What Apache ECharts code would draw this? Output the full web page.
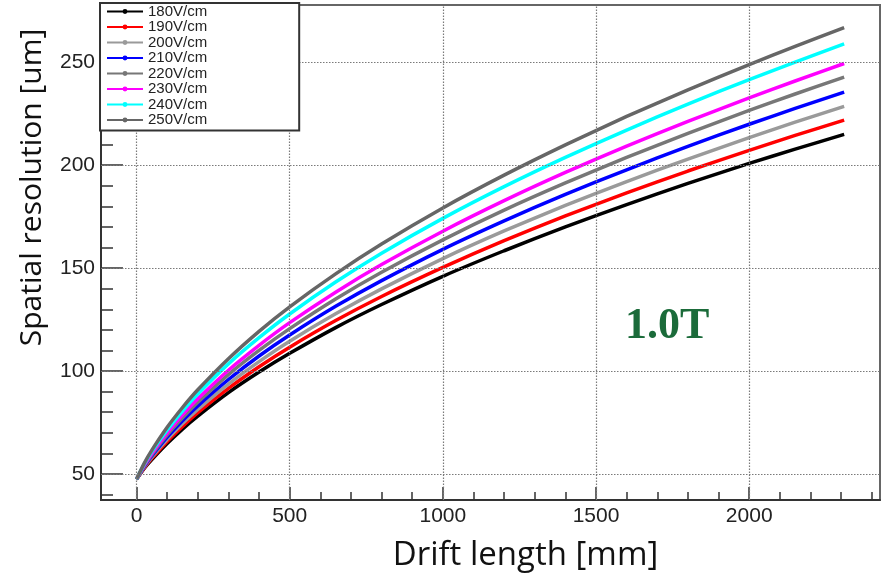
<!DOCTYPE html>
<html><head><meta charset="utf-8">
<script src="https://cdn.jsdelivr.net/npm/echarts@6/dist/echarts.min.js"></script>
<style>html,body{margin:0;padding:0;background:#fff}#c{width:884px;height:578px}</style>
</head><body><div id="c"></div>
<script>
// Drift length sample positions [mm]
const driftLength = [0, 25, 50, 100, 150, 200, 300, 400, 500, 650, 800, 1000, 1200, 1400, 1600, 1800, 2000, 2150, 2310];
const seriesNames = ['180V/cm', '190V/cm', '200V/cm', '210V/cm', '220V/cm', '230V/cm', '240V/cm', '250V/cm'];
const seriesColors = ['#000000', '#ff0000', '#9a9a9a', '#0000ff', '#777777', '#ff00ff', '#00ffff', '#666666'];
// Spatial resolution [um]
const res180 = [47.5, 52.7, 57.0, 64.8, 71.8, 78.1, 89.5, 99.5, 108.6, 121.1, 132.3, 146.0, 158.4, 170.0, 180.8, 191.1, 200.8, 207.7, 214.9];
const res190 = [47.5, 53.0, 57.6, 65.8, 73.1, 79.8, 91.6, 102.1, 111.6, 124.5, 136.2, 150.3, 163.3, 175.3, 186.5, 197.1, 207.1, 214.4, 221.8];
const res200 = [47.5, 53.3, 58.2, 66.8, 74.5, 81.4, 93.7, 104.6, 114.5, 127.8, 139.9, 154.6, 168.0, 180.4, 192.0, 202.9, 213.3, 220.8, 228.5];
const res210 = [47.5, 53.7, 58.8, 67.9, 75.9, 83.1, 95.9, 107.3, 117.5, 131.4, 143.9, 159.1, 172.9, 185.8, 197.7, 209.1, 219.8, 227.5, 235.4];
const res220 = [47.5, 54.0, 59.4, 69.0, 77.3, 84.9, 98.3, 110.0, 120.6, 135.0, 148.0, 163.7, 178.1, 191.3, 203.7, 215.4, 226.5, 234.5, 242.7];
const res230 = [47.5, 54.3, 60.0, 70.0, 78.7, 86.5, 100.4, 112.5, 123.5, 138.3, 151.7, 167.9, 182.7, 196.4, 209.2, 221.2, 232.6, 240.8, 249.3];
const res240 = [47.5, 54.8, 60.9, 71.4, 80.6, 88.9, 103.5, 116.2, 127.7, 143.2, 157.2, 174.1, 189.5, 203.7, 217.0, 229.6, 241.5, 250.0, 258.8];
const res250 = [47.5, 55.2, 61.6, 72.7, 82.3, 90.9, 106.0, 119.3, 131.2, 147.2, 161.7, 179.2, 195.1, 209.8, 223.6, 236.5, 248.8, 257.6, 266.7];
const allRes = [res180, res190, res200, res210, res220, res230, res240, res250];
// Tick values
const xMajorTicks = [0, 500, 1000, 1500, 2000];
const xMinorTicks = [0, 100, 200, 300, 400, 500, 600, 700, 800, 900, 1000, 1100, 1200, 1300, 1400, 1500, 1600, 1700, 1800, 1900, 2000, 2100, 2200, 2300, 2400];
const yMajorTicks = [50, 100, 150, 200, 250];
const yMinorTicks = [40, 50, 60, 70, 80, 90, 100, 110, 120, 130, 140, 150, 160, 170, 180, 190, 200, 210, 220, 230, 240, 250, 260, 270];
const xName = 'Drift length [mm]';
const yName = 'Spatial resolution [um]';
const fieldLabel = '1.0T';

const X_MIN = -116, X_MAX = 2427, Y_MIN = 37.4, Y_MAX = 277.7;
const chart = echarts.init(document.getElementById('c'), null, {renderer: 'canvas'});

const lineSeries = seriesNames.map((n, i) => ({
  name: n, type: 'line', xAxisIndex: 0, yAxisIndex: 0,
  data: driftLength.map((x, j) => [x, allRes[i][j]]),
  showSymbol: false, symbol: 'circle', smooth: 0.2,
  lineStyle: {color: seriesColors[i], width: 3.5},
  itemStyle: {color: seriesColors[i]},
  z: 3, animation: false
}));

const gridSeries = {
  name: '_grid', type: 'line', xAxisIndex: 0, yAxisIndex: 0,
  data: [[-10000, 0]], showSymbol: false, lineStyle: {opacity: 0}, silent: true, z: 1, animation: false,
  markLine: {
    silent: true, symbol: ['none', 'none'], label: {show: false}, animation: false,
    lineStyle: {color: '#7a7a7a', type: [1.5, 1.5], width: 1.2},
    emphasis: {disabled: true},
    data: xMajorTicks.map(v => ({xAxis: v})).concat(yMajorTicks.map(v => ({yAxis: v})))
  }
};

const axisText = {fontFamily: 'Liberation Sans', fontSize: 21, color: '#222', formatter: v => String(v)};

chart.setOption({
  backgroundColor: '#fff',
  animation: false,
  grid: {left: 101, right: 4, top: 5, bottom: 78, show: true, borderColor: '#666', borderWidth: 2, backgroundColor: 'transparent'},
  xAxis: [
    {type: 'value', min: X_MIN, max: X_MAX, position: 'bottom',
     name: xName, nameLocation: 'middle', nameGap: 39,
     nameTextStyle: {fontFamily: 'Open Sans', fontSize: 33, color: '#111', padding: [0, 0, 0, 70]},
     axisLine: {show: true, onZero: false, lineStyle: {color: '#333', width: 2}},
     axisTick: {show: true, inside: true, length: 13, customValues: xMajorTicks, lineStyle: {color: '#333', width: 1.5}},
     axisLabel: {show: true, customValues: xMajorTicks, margin: 6, ...axisText},
     splitLine: {show: false}},
    {type: 'value', min: X_MIN, max: X_MAX, position: 'bottom',
     axisLine: {show: false, onZero: false},
     axisTick: {show: true, inside: true, length: 8, customValues: xMinorTicks, lineStyle: {color: '#333', width: 1.5}},
     axisLabel: {show: false}, splitLine: {show: false}}
  ],
  yAxis: [
    {type: 'value', min: Y_MIN, max: Y_MAX, position: 'left',
     name: yName, nameLocation: 'middle', nameGap: 54,
     nameTextStyle: {fontFamily: 'Open Sans', fontSize: 30, color: '#111', padding: [0, 0, 0, 130]},
     axisLine: {show: true, onZero: false, lineStyle: {color: '#333', width: 2}},
     axisTick: {show: true, inside: true, length: 22, customValues: yMajorTicks, lineStyle: {color: '#333', width: 1.5}},
     axisLabel: {show: true, customValues: yMajorTicks, margin: 6, ...axisText},
     splitLine: {show: false}},
    {type: 'value', min: Y_MIN, max: Y_MAX, position: 'left',
     axisLine: {show: false, onZero: false},
     axisTick: {show: true, inside: true, length: 12, customValues: yMinorTicks, lineStyle: {color: '#333', width: 1.5}},
     axisLabel: {show: false}, splitLine: {show: false}}
  ],
  legend: {
    data: seriesNames, orient: 'vertical', left: 100, top: 3,
    backgroundColor: '#fff', borderColor: '#333', borderWidth: 2, borderRadius: 0,
    padding: [1, 92, 3, 6],
    itemWidth: 36, itemHeight: 6, itemGap: 0.5,
    lineStyle: {width: 2},
    textStyle: {fontFamily: 'Liberation Sans', fontSize: 15, color: '#222', lineHeight: 14},
    selectedMode: false, z: 10
  },
  graphic: [{
    type: 'text', left: 625, top: 305, z: 20,
    style: {text: fieldLabel, fill: '#1b6b3a', font: 'bold 44px "Liberation Serif"'}
  }],
  series: [gridSeries].concat(lineSeries)
});
</script></body></html>
